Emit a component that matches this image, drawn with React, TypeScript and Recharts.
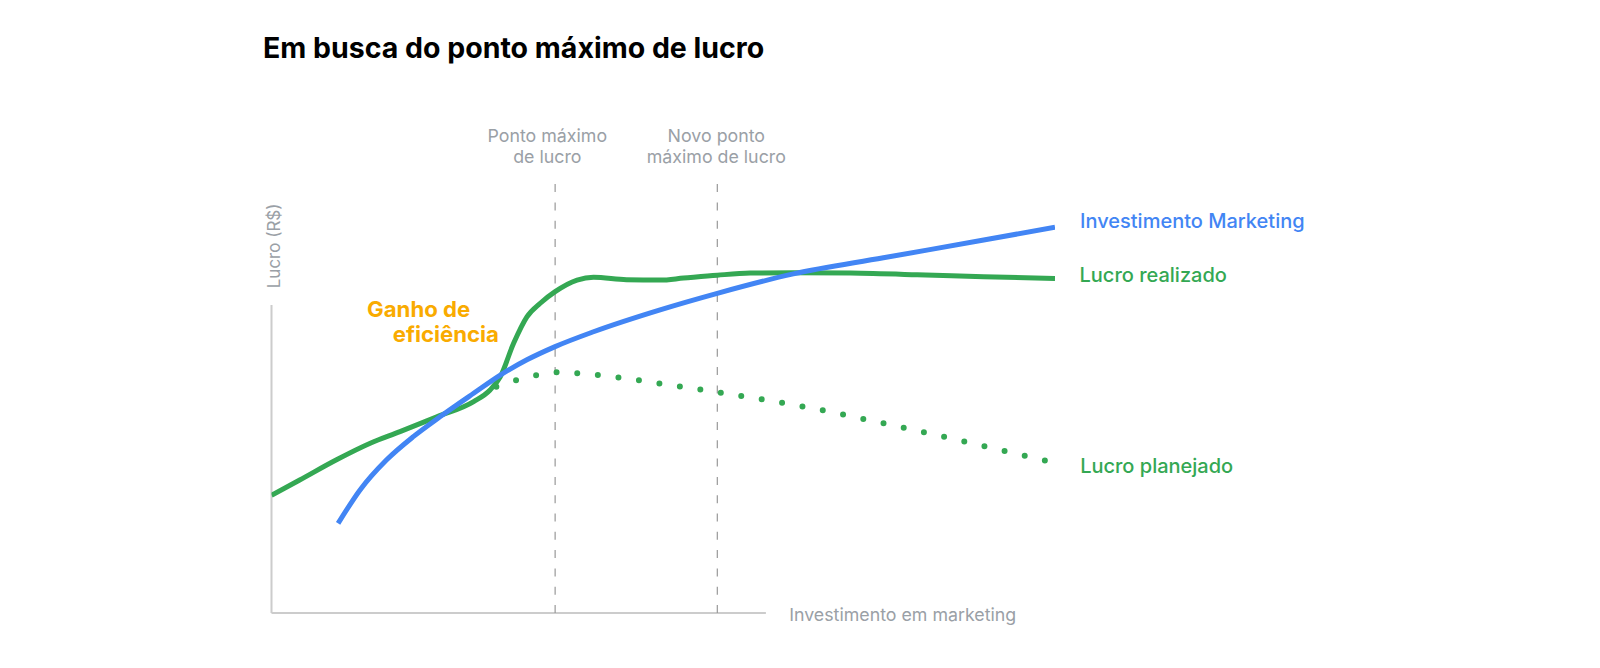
import React from "react";
import { LineChart, Line, XAxis, YAxis, ReferenceLine, ReferenceDot } from "recharts";

// valores (unidades arbitrárias: x 0–100, y 0–110)
const realizadoX = [0, 3.6, 8.3, 12.6, 16.4, 21.1, 25.8, 27.9, 29.2, 30.9, 32.6, 34.3, 36.2, 39.0, 41.1, 45.3, 49.6, 52.6, 56.9, 61.1, 66.6, 73.9, 82.4, 90.9, 100];
const realizadoY = [28.5, 32.2, 37.1, 41.1, 43.9, 47.5, 51.2, 54.0, 57.2, 65.3, 71.7, 75.0, 77.8, 80.6, 81.3, 80.7, 80.6, 81.1, 81.8, 82.3, 82.4, 82.3, 81.9, 81.4, 81.0];

const investimentoX = [8.5, 11.3, 14.7, 18.1, 21.5, 25.8, 29.2, 32.6, 36.2, 41.1, 49.6, 56.9, 66.6, 78.1, 90.9, 100];
const investimentoY = [21.7, 29.8, 37.1, 42.7, 47.5, 53.2, 57.6, 61.3, 64.5, 68.1, 73.4, 77.4, 82.1, 86.0, 90.3, 93.4];

const planejadoX = [28.7, 33.8, 36.4, 39.2, 44.5, 49.8, 57.8, 68.4, 78.9, 89.4, 99.8];
const planejadoY = [54.8, 57.6, 58.3, 58.0, 57.0, 55.5, 53.2, 49.8, 45.6, 41.1, 36.4];

const pontosMaximos = [36.2, 56.9];
const pontosTextos = [
  ["Ponto máximo", "de lucro"],
  ["Novo ponto", "máximo de lucro"],
];
const linhaTopo = 105.6;
const eixoYTopo = 74.6;
const eixoXFim = 63.1;
const ganhoX = 12.2;
const ganhoY = 71.6;
const ganhoTexto = ["Ganho de", "eficiência"];

const titulo = "Em busca do ponto máximo de lucro";
const rotuloY = "Lucro (R$)";
const rotuloX = "Investimento em marketing";
const nomeInvestimento = "Investimento Marketing";
const nomeRealizado = "Lucro realizado";
const nomePlanejado = "Lucro planejado";

const toPoints = (xs: number[], ys: number[]) => xs.map((x, i) => ({ x, y: ys[i] }));
const realizado = toPoints(realizadoX, realizadoY);
const investimento = toPoints(investimentoX, investimentoY);
const planejado = toPoints(planejadoX, planejadoY);

const BLUE = "#4285F4";
const GREEN = "#34A853";
const YELLOW = "#F9AB00";
const GRAY = "#9aa0a6";
const AXIS = "#cccccc";
const FONT = "Inter, Roboto, sans-serif";

type LineSpec = { text: string; dx: number; dy: number };

const textLabel =
  (
    lines: LineSpec[],
    style: { size: number; weight: number; color: string; anchor?: string }
  ) =>
  (props: any) => {
    const { x, y } = props.viewBox;
    return (
      <text
        fontFamily={FONT}
        fontSize={style.size}
        fontWeight={style.weight}
        fill={style.color}
        textAnchor={style.anchor ?? "start"}
      >
        {lines.map((l, i) => (
          <tspan key={i} x={x + l.dx} y={y + l.dy}>
            {l.text}
          </tspan>
        ))}
      </text>
    );
  };

const rotatedLabel = (text: string) => (props: any) => {
  const cx = props.viewBox.x + 8.5;
  const cy = props.viewBox.y - 59;
  return (
    <text
      x={cx}
      y={cy}
      transform={`rotate(-90 ${cx} ${cy})`}
      textAnchor="middle"
      fontFamily={FONT}
      fontSize={17}
      fill={GRAY}
    >
      {text}
    </text>
  );
};

const hiddenDot = { r: 0, fill: "none", stroke: "none" };

export default function App() {
  const refOffsets = [-7.8, -1];
  return (
    <div style={{ position: "absolute", left: 0, top: 0, width: 1600, height: 668, background: "#fff" }}>
      <div
        style={{
          position: "absolute",
          left: 263,
          top: 33.5,
          fontFamily: FONT,
          fontSize: 28.5,
          fontWeight: 700,
          lineHeight: "28.5px",
          color: "#000",
          whiteSpace: "nowrap",
        }}
      >
        {titulo}
      </div>
      <LineChart
        width={1600}
        height={668}
        margin={{ top: 158.7, right: 545, bottom: 55, left: 271.5 }}
      >
        <XAxis type="number" dataKey="x" domain={[0, 100]} allowDataOverflow hide />
        <YAxis type="number" dataKey="y" domain={[0, 110]} allowDataOverflow hide />

        {/* eixos parciais */}
        <ReferenceLine
          segment={[{ x: 0, y: 0 }, { x: 0, y: eixoYTopo }]}
          stroke={AXIS}
          strokeWidth={2}
        />
        <ReferenceLine
          segment={[{ x: 0, y: 0 }, { x: eixoXFim, y: 0 }]}
          stroke={AXIS}
          strokeWidth={2}
        />

        {pontosMaximos.map((px) => (
          <ReferenceLine
            key={px}
            segment={[{ x: px, y: 0 }, { x: px, y: linhaTopo }]}
            stroke="#999999"
            strokeWidth={1.2}
            strokeDasharray="8 10.3"
          />
        ))}

        <Line
          data={planejado}
          dataKey="y"
          type="monotone"
          stroke={GREEN}
          strokeWidth={6}
          strokeLinecap="round"
          strokeDasharray="0 20.7"
          dot={false}
          activeDot={false}
          isAnimationActive={false}
        />
        <Line
          data={realizado}
          dataKey="y"
          type="monotone"
          stroke={GREEN}
          strokeWidth={5}
          dot={false}
          activeDot={false}
          isAnimationActive={false}
        />
        <Line
          data={investimento}
          dataKey="y"
          type="monotone"
          stroke={BLUE}
          strokeWidth={5}
          dot={false}
          activeDot={false}
          isAnimationActive={false}
        />

        {/* rótulos */}
        {pontosMaximos.map((px, i) => (
          <ReferenceDot
            key={"lbl" + px}
            x={px}
            y={linhaTopo}
            {...hiddenDot}
            label={textLabel(
              [
                { text: pontosTextos[i][0], dx: refOffsets[i], dy: -35 },
                { text: pontosTextos[i][1], dx: refOffsets[i], dy: -13.4 },
              ],
              { size: 17.8, weight: 400, color: GRAY, anchor: "middle" }
            )}
          />
        ))}

        <ReferenceDot x={0} y={eixoYTopo} {...hiddenDot} label={rotatedLabel(rotuloY)} />
        <ReferenceDot
          x={eixoXFim}
          y={0}
          {...hiddenDot}
          label={textLabel([{ text: rotuloX, dx: 23.3, dy: 8 }], { size: 17.8, weight: 400, color: GRAY })}
        />

        <ReferenceDot
          x={ganhoX}
          y={ganhoY}
          {...hiddenDot}
          label={textLabel(
            [
              { text: ganhoTexto[0], dx: 0, dy: 0 },
              { text: ganhoTexto[1], dx: 25.6, dy: 25 },
            ],
            { size: 22.2, weight: 700, color: YELLOW }
          )}
        />

        <ReferenceDot
          x={investimentoX[investimentoX.length - 1]}
          y={investimentoY[investimentoY.length - 1]}
          {...hiddenDot}
          label={textLabel([{ text: nomeInvestimento, dx: 25, dy: 1 }], { size: 20, weight: 500, color: BLUE })}
        />
        <ReferenceDot
          x={realizadoX[realizadoX.length - 1]}
          y={realizadoY[realizadoY.length - 1]}
          {...hiddenDot}
          label={textLabel([{ text: nomeRealizado, dx: 24.5, dy: 3.8 }], { size: 20, weight: 500, color: GREEN })}
        />
        <ReferenceDot
          x={planejadoX[planejadoX.length - 1]}
          y={planejadoY[planejadoY.length - 1]}
          {...hiddenDot}
          label={textLabel([{ text: nomePlanejado, dx: 26.7, dy: 10 }], { size: 20, weight: 500, color: GREEN })}
        />
      </LineChart>
    </div>
  );
}
